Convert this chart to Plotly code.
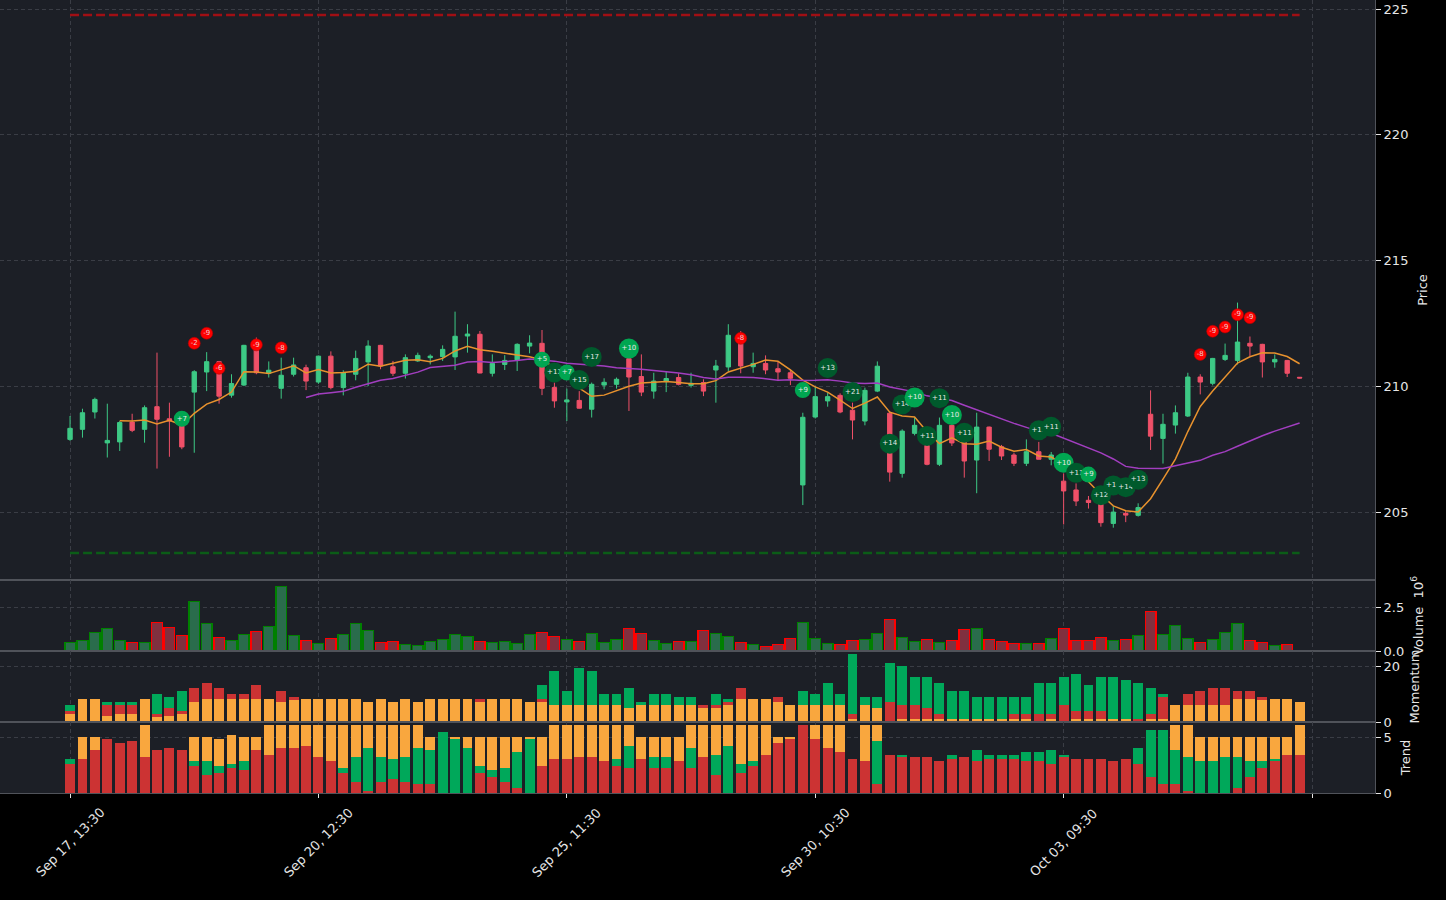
import plotly.graph_objects as go
from plotly.subplots import make_subplots
import pandas as pd

# ---------------- data ----------------
tick_idx = [0, 20, 40, 60, 80, 100]
tick_labels = ["Sep 17, 13:30", "Sep 20, 12:30", "Sep 25, 11:30", "Sep 30, 10:30", "Oct 03, 09:30", ""]

opens = [207.89, 208.29, 208.98, 207.75, 207.79, 208.58, 208.29, 209.19, 208.71, 208.42,
         209.77, 210.57, 210.98, 209.65, 210.05, 211.47, 210.52, 209.92, 210.48, 210.74,
         210.17, 211.20, 209.95, 210.48, 210.97, 211.63, 210.78, 210.52, 211.01, 211.14,
         211.18, 211.17, 212.00, 212.07, 210.52, 210.87, 211.05, 211.60, 211.71, 209.95,
         209.38, 209.44, 209.09, 210.05, 210.08, 211.10, 210.39, 209.81, 210.19, 210.35,
         210.04, 210.15, 210.65, 210.77, 211.80, 210.78, 210.91, 210.70, 210.54, 206.08,
         208.78, 209.42, 209.64, 209.05, 208.62, 209.81, 208.93, 206.54, 208.13, 207.65,
         206.90, 208.45, 207.89, 207.07, 208.38, 207.60, 207.27, 206.94, 207.40, 207.10,
         206.23, 205.88, 205.47, 205.31, 204.55, 204.95, 204.87, 208.89, 207.93, 208.46,
         208.82, 210.37, 210.12, 211.07, 211.03, 211.71, 211.67, 210.97, 211.03, 210.36]
highs = [208.82, 209.11, 209.55, 209.31, 208.62, 208.91, 209.24, 211.34, 209.35, 208.49,
         210.64, 211.36, 211.01, 210.48, 211.65, 211.94, 210.99, 211.14, 211.14, 210.86,
         211.22, 211.39, 210.64, 211.42, 211.83, 211.65, 211.01, 211.27, 211.34, 211.27,
         211.63, 212.97, 212.47, 212.20, 211.27, 211.24, 211.71, 212.03, 212.24, 210.15,
         209.91, 209.81, 210.15, 210.32, 210.35, 211.27, 211.27, 210.54, 210.57, 210.52,
         210.54, 210.28, 211.05, 212.47, 212.20, 211.34, 211.23, 210.98, 210.68, 208.95,
         210.01, 209.75, 209.72, 209.35, 209.95, 210.99, 209.02, 208.29, 208.76, 207.83,
         208.76, 208.56, 208.09, 208.95, 208.40, 207.67, 207.36, 207.89, 207.79, 207.39,
         206.54, 206.14, 205.64, 205.51, 205.24, 205.07, 205.35, 209.84, 208.91, 209.24,
         210.54, 210.48, 211.13, 211.70, 213.33, 211.98, 211.69, 211.27, 211.05, 210.37]
lows = [207.83, 207.96, 208.72, 207.17, 207.43, 208.18, 207.76, 206.73, 207.20, 207.50,
        207.36, 209.81, 209.31, 209.55, 210.01, 210.48, 210.35, 209.51, 210.39, 209.85,
        210.10, 209.88, 209.64, 210.24, 210.01, 210.68, 210.41, 210.31, 210.97, 210.87,
        211.01, 210.65, 211.34, 210.52, 210.39, 210.65, 210.61, 211.31, 209.65, 209.15,
        208.62, 209.12, 208.76, 209.88, 209.91, 209.02, 209.61, 209.51, 209.77, 210.04,
        209.95, 209.61, 209.35, 210.61, 210.52, 210.54, 210.48, 210.21, 210.05, 205.28,
        208.72, 209.19, 208.93, 207.89, 208.45, 209.77, 206.21, 206.37, 208.05, 206.86,
        206.83, 207.63, 206.37, 205.75, 207.03, 207.07, 206.83, 206.83, 207.10, 206.86,
        204.51, 205.24, 205.14, 204.42, 204.38, 204.60, 204.82, 207.47, 206.93, 208.12,
        208.78, 209.68, 210.04, 211.01, 210.87, 211.20, 210.35, 210.74, 210.37, 210.32]
closes = [208.33, 208.95, 209.48, 207.85, 208.56, 208.25, 209.15, 208.69, 208.62, 207.59,
          210.58, 210.98, 209.61, 210.11, 211.63, 210.54, 210.64, 210.44, 210.85, 210.21,
          211.20, 209.95, 210.54, 211.11, 211.60, 210.81, 210.52, 211.14, 211.23, 211.20,
          211.47, 211.99, 212.08, 210.53, 210.91, 211.03, 211.67, 211.72, 209.92, 209.42,
          209.46, 209.13, 210.08, 210.16, 210.28, 210.37, 209.77, 210.21, 210.31, 210.08,
          210.12, 209.81, 210.81, 212.03, 210.81, 210.91, 210.65, 210.57, 210.32, 208.77,
          209.59, 209.59, 208.98, 208.66, 209.84, 210.80, 206.59, 208.22, 208.45, 206.90,
          208.45, 207.75, 207.03, 208.38, 207.50, 207.23, 206.94, 207.40, 207.10, 207.27,
          205.84, 205.44, 205.38, 204.58, 205.00, 204.88, 205.18, 208.02, 208.49, 208.95,
          210.37, 210.17, 211.11, 211.23, 211.76, 211.60, 210.97, 211.07, 210.52, 210.33]
volume_m = [0.49, 0.61, 1.06, 1.29, 0.61, 0.49, 0.49, 1.63, 1.34, 0.89,
            2.82, 1.57, 0.78, 0.61, 0.95, 1.12, 1.40, 3.67, 0.89, 0.61,
            0.44, 0.72, 0.95, 1.57, 1.17, 0.49, 0.55, 0.38, 0.32, 0.55,
            0.66, 0.95, 0.83, 0.55, 0.49, 0.55, 0.44, 0.95, 1.06, 0.83,
            0.66, 0.55, 1.00, 0.49, 0.66, 1.29, 1.00, 0.61, 0.44, 0.55,
            0.55, 1.17, 1.00, 0.83, 0.49, 0.38, 0.27, 0.38, 0.72, 1.63,
            0.72, 0.44, 0.38, 0.61, 0.66, 1.00, 1.80, 0.78, 0.55, 0.66,
            0.49, 0.61, 1.23, 1.29, 0.66, 0.55, 0.44, 0.44, 0.44, 0.72,
            1.29, 0.61, 0.61, 0.78, 0.61, 0.66, 0.89, 2.25, 0.95, 1.46,
            0.72, 0.49, 0.66, 1.06, 1.57, 0.61, 0.49, 0.32, 0.38, 0.02]
mom_orange = [2.86, 8.2, 8.2, 2.14, 2.86, 2.86, 8.2, 2.14, 2.14, 2.86,
              7.1, 8.2, 8.2, 8.2, 8.2, 8.2, 8.2, 7.1, 8.2, 8.2,
              8.2, 8.2, 8.2, 8.2, 7.1, 8.2, 7.1, 8.2, 7.1, 8.2,
              8.2, 8.2, 8.2, 7.1, 8.2, 8.2, 8.2, 7.1, 7.1, 6.07,
              6.07, 6.07, 6.07, 6.07, 6.07, 5.0, 6.07, 6.07, 6.07, 6.07,
              6.07, 5.0, 5.0, 6.07, 8.2, 8.2, 8.2, 7.1, 6.07, 6.07,
              6.07, 6.07, 6.07, 1.07, 6.07, 5.0, 0, 1.07, 1.07, 1.07,
              1.07, 1.07, 1.07, 1.07, 1.07, 1.07, 1.07, 1.07, 0, 1.07,
              0, 1.07, 1.07, 1.07, 1.07, 1.07, 0, 1.07, 1.07, 6.07,
              6.07, 6.07, 6.07, 6.07, 8.2, 8.2, 8.2, 8.2, 8.2, 7.1]
mom_red = [1.07, 0, 0, 3.93, 3.2, 3.2, 0, 0.7, 2.7, 1.07,
           5.0, 5.7, 3.9, 1.8, 1.8, 5.0, 0, 3.9, 0.7, 0,
           0, 0, 0, 0, 0, 0, 0, 0, 0, 0,
           0, 0, 0, 1.07, 0, 0, 0, 0, 1.07, 0,
           0, 0, 0, 0, 0, 0, 0, 0, 0, 0,
           0, 1.07, 1.07, 1.07, 3.9, 0, 0, 1.8, 0, 0,
           0, 0, 0, 1.8, 0, 0, 7.1, 5.0, 5.0, 3.9,
           1.8, 0, 0, 0, 0, 0, 1.8, 1.8, 2.86, 1.8,
           6.07, 2.86, 2.86, 2.86, 0, 0, 1.07, 1.8, 7.9, 0,
           3.9, 5.0, 6.07, 6.07, 2.86, 2.86, 0.7, 0, 0, 0]
mom_green = [2.14, 0, 0, 1.07, 1.07, 1.07, 0, 7.1, 4.05, 7.1,
             0, 0, 0, 0, 0, 0, 0, 0, 0, 0,
             0, 0, 0, 0, 0, 0, 0, 0, 0, 0,
             0, 0, 0, 0, 0, 0, 0, 0, 5.0, 12.1,
             5.0, 13.2, 12.1, 3.9, 3.9, 7.1, 1.07, 3.9, 3.9, 2.86,
             2.86, 0, 3.9, 1.07, 0, 0, 0, 0, 0, 5.0,
             3.9, 7.9, 3.9, 21.4, 2.86, 3.9, 13.9, 13.9, 10.0, 11.1,
             11.1, 10.0, 10.0, 7.9, 7.9, 7.9, 6.07, 6.07, 11.1, 11.1,
             10.0, 13.2, 9.3, 12.1, 15.0, 13.9, 12.9, 9.3, 1.07, 0,
             0, 0, 0, 0, 0, 0, 0, 0, 0, 0]
trend_red = [2.59, 3.04, 3.84, 4.82, 4.46, 4.64, 3.21, 3.84, 4.02, 3.84,
             2.41, 1.61, 1.79, 2.23, 2.05, 3.84, 3.39, 4.02, 4.02, 4.2,
             3.21, 2.86, 1.79, 0.98, 0.18, 0.98, 1.25, 0.98, 0.8, 0.8,
             0, 0, 0, 1.79, 1.43, 0.98, 0.45, 0, 2.41, 3.04,
             3.04, 3.21, 3.21, 2.86, 2.41, 2.23, 3.04, 2.23, 2.23, 2.86,
             2.23, 3.21, 1.61, 0, 1.79, 2.41, 3.39, 4.46, 4.82, 6.07,
             4.82, 4.02, 3.66, 3.04, 2.86, 0.8, 3.39, 3.21, 3.21, 3.21,
             2.86, 3.04, 3.21, 2.86, 3.04, 3.04, 3.04, 2.86, 2.86, 2.59,
             3.21, 3.04, 3.04, 3.04, 2.86, 3.04, 2.59, 1.43, 0.8, 0.8,
             0.18, 0, 0, 0, 0.45, 1.43, 2.23, 2.86, 3.39, 3.39]
trend_green = [0.45, 0, 0, 0, 0, 0, 0, 0, 0, 0,
               0.45, 1.25, 0.63, 0.36, 0.8, 0, 0, 0, 0, 0,
               0, 0, 0.45, 2.23, 3.84, 2.23, 1.79, 2.23, 3.21, 3.04,
               5.45, 4.82, 4.02, 0.63, 0.63, 1.25, 3.21, 4.82, 0, 0,
               0, 0, 0, 0, 0.63, 1.96, 0, 0.98, 0.98, 0,
               1.79, 0, 1.79, 4.2, 0.8, 0.45, 0, 0, 0, 0,
               0, 0, 0, 0, 0, 3.84, 0, 0.18, 0, 0,
               0, 0.36, 0, 0.98, 0.36, 0.36, 0.36, 0.8, 0.8, 1.25,
               0.18, 0, 0, 0, 0, 0, 1.43, 4.2, 4.82, 3.04,
               3.04, 2.86, 2.86, 3.21, 2.77, 1.43, 0.63, 0.18, 0, 0]
trend_orange = [0, 1.96, 1.16, 0, 0, 0, 2.86, 0, 0, 0,
                2.14, 2.14, 2.41, 2.59, 2.14, 1.16, 2.68, 2.05, 2.05, 1.88,
                2.86, 3.21, 3.84, 2.86, 2.05, 2.86, 3.04, 2.86, 2.05, 1.16,
                0, 0.18, 0.98, 2.59, 2.95, 2.77, 1.34, 0.18, 2.59, 3.04,
                3.04, 2.86, 2.86, 3.21, 3.04, 1.88, 1.96, 1.79, 1.79, 2.14,
                2.05, 2.86, 2.68, 1.88, 3.48, 3.21, 2.68, 0.54, 0.18, 0,
                1.25, 2.05, 2.41, 0, 3.21, 1.43, 0, 0, 0, 0,
                0, 0, 0, 0, 0, 0, 0, 0, 0, 0,
                0, 0, 0, 0, 0, 0, 0, 0, 0, 2.23,
                2.86, 2.14, 2.14, 1.79, 1.79, 2.14, 2.14, 1.96, 1.61, 2.68]

sell_idx = [10, 11, 12, 15, 17, 54, 91, 92, 93, 94, 95]
sell_price = [211.71, 212.11, 210.72, 211.65, 211.53, 211.91, 211.27, 212.19, 212.36, 212.85, 212.73]
sell_score = [-2, -9, -6, -9, -8, -8, -8, -9, -9, -9, -9]
buy_idx = [9, 38, 39, 40, 41, 42, 45, 59, 61, 63, 66, 67, 68, 69, 70, 71, 72, 78, 79, 80, 81, 82, 83, 84, 85, 86]
buy_price = [208.71, 211.06, 210.55, 210.55, 210.25, 211.17, 211.50, 209.85, 210.73, 209.77, 207.72, 209.28, 209.56,
             208.03, 209.53, 208.86, 208.15, 208.25, 208.39, 206.96, 206.56, 206.49, 205.67, 206.06, 205.99, 206.29]
buy_score = [7, 5, 11, 7, 15, 17, 10, 9, 13, 21, 14, 14, 10, 11, 11, 10, 11, 11, 11, 10, 11, 9, 12, 14, 14, 13]

resistance_level = 224.76
support_level = 203.37

# ---------------- styling ----------------
FONT = "DejaVu Sans"
TXT = "#e6e6e6"
BG = "#1c1f26"
GRID = "#3a3d45"
SPINE = "#50535a"
C_UP, C_DN = "#3dc985", "#ef5068"
C_G, C_R, C_O = "#00a85a", "#cc3333", "#f9a73e"

n = len(closes)
x = list(range(n))
close_s = pd.Series(closes)
ma_fast = close_s.rolling(5).mean()
ma_slow = close_s.rolling(20).mean()

fig = make_subplots(rows=4, cols=1, shared_xaxes=True, vertical_spacing=0)

fig.add_trace(go.Candlestick(
    x=x, open=opens, high=highs, low=lows, close=closes,
    increasing=dict(line=dict(color=C_UP, width=1), fillcolor=C_UP),
    decreasing=dict(line=dict(color=C_DN, width=1), fillcolor=C_DN),
    whiskerwidth=0, hoverinfo="skip"), row=1, col=1)

fig.add_trace(go.Scatter(x=x, y=ma_fast, mode="lines", line=dict(color="#e8922e", width=1.5)), row=1, col=1)
fig.add_trace(go.Scatter(x=x, y=ma_slow, mode="lines", line=dict(color="#a23ec0", width=1.5)), row=1, col=1)

fig.add_trace(go.Scatter(x=[0, n - 1], y=[resistance_level] * 2, mode="lines",
                         line=dict(color="#a00f14", width=2.5, dash="9px,4px")), row=1, col=1)
fig.add_trace(go.Scatter(x=[0, n - 1], y=[support_level] * 2, mode="lines",
                         line=dict(color="#0b5c17", width=2.5, dash="9px,4px")), row=1, col=1)

fig.add_trace(go.Scatter(
    x=sell_idx, y=sell_price, mode="markers+text",
    text=[str(s) for s in sell_score], textposition="middle center",
    textfont=dict(family=FONT, size=7, color="#f0d0d0"),
    marker=dict(size=12, color="#ff0000", line=dict(width=0.6, color="#b00000"))), row=1, col=1)

for i, p, s in zip(buy_idx, buy_price, buy_score):
    fig.add_trace(go.Scatter(
        x=[i], y=[p], mode="markers+text", text=["+%d" % s], textposition="middle center",
        textfont=dict(family=FONT, size=7, color="#e8e8e8"),
        marker=dict(size=16 if s < 10 else 20, color="#00a651" if s <= 10 else "#005a2c")), row=1, col=1)

vol_fill = ["#2a6c4c" if c >= o else "#80303f" for o, c in zip(opens, closes)]
vol_edge = ["#008000" if c >= o else "#ff0000" for o, c in zip(opens, closes)]
fig.add_trace(go.Bar(x=x, y=volume_m, width=0.85, marker=dict(color=vol_fill, line=dict(color=vol_edge, width=1.5))),
              row=2, col=1)

for vals, col in [(mom_orange, C_O), (mom_red, C_R), (mom_green, C_G)]:
    fig.add_trace(go.Bar(x=x, y=vals, width=0.8, marker=dict(color=col, line=dict(width=0))), row=3, col=1)
for vals, col in [(trend_red, C_R), (trend_green, C_G), (trend_orange, C_O)]:
    fig.add_trace(go.Bar(x=x, y=vals, width=0.8, marker=dict(color=col, line=dict(width=0))), row=4, col=1)

H = 793.0
doms = [[(H - 580) / H, 1.0], [(H - 651) / H, (H - 580) / H], [(H - 722) / H, (H - 651) / H], [0.0, (H - 722) / H]]

xcommon = dict(range=[-5.64, 105.07], tickmode="array", tickvals=tick_idx, showticklabels=False,
               showgrid=True, gridcolor=GRID, griddash="4px,3px", gridwidth=1,
               showline=True, linecolor=SPINE, linewidth=1, mirror=True, zeroline=False,
               rangeslider=dict(visible=False), automargin=False)
ycommon = dict(side="right", ticks="outside", ticklen=5, tickwidth=1, tickcolor=TXT,
               tickfont=dict(family=FONT, size=13, color=TXT),
               showgrid=True, gridcolor=GRID, griddash="4px,3px", gridwidth=1,
               showline=True, linecolor=SPINE, linewidth=1, mirror=True, zeroline=False,
               automargin=False)

layout = dict(
    width=1446, height=900, paper_bgcolor="#000000", plot_bgcolor=BG,
    margin=dict(l=0, r=71, t=0, b=107), showlegend=False, barmode="stack", boxgap=0.5,
    font=dict(family=FONT, size=13, color=TXT), template="none",
)
titles = ["Price", "Volume  10<sup>6</sup>", "Momentum", "Trend"]
yr = [dict(range=[202.30, 225.36], tickvals=[205, 210, 215, 220, 225]),
      dict(range=[0, 4.034], tickvals=[0, 2.5], ticktext=["0.0", "2.5"]),
      dict(range=[0, 25.36], tickvals=[0, 20]),
      dict(range=[0, 6.34], tickvals=[0, 5])]
for k in range(4):
    sfx = "" if k == 0 else str(k + 1)
    xa = dict(xcommon)
    if k == 3:
        xa.update(ticks="outside", ticklen=4, tickwidth=1, tickcolor=TXT)
    layout["xaxis" + sfx] = xa
    ya = dict(ycommon)
    ya.update(yr[k])
    ya.update(domain=doms[k], title=dict(text=titles[k], standoff=10, font=dict(family=FONT, size=13, color=TXT)))
    layout["yaxis" + sfx] = ya

fig.update_layout(**layout)

for t, lab in zip(tick_idx, tick_labels):
    if lab:
        fig.add_annotation(x=t, xref="x4", y=(H - 842.5) / H, yref="paper", text=lab, showarrow=False,
                           textangle=-45, xanchor="center", yanchor="middle",
                           font=dict(family=FONT, size=13, color=TXT))

fig.write_html("out.html")
